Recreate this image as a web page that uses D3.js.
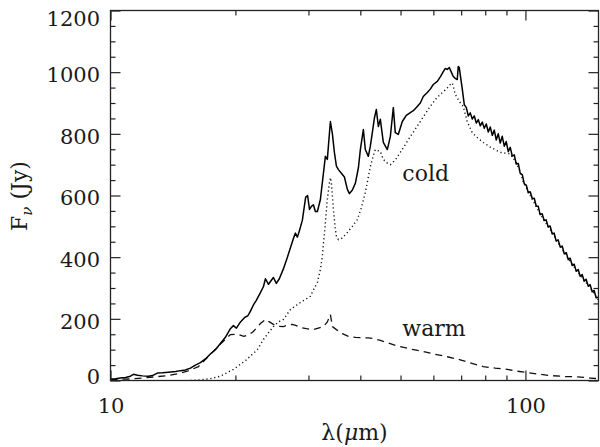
<!DOCTYPE html>
<html>
<head>
<meta charset="utf-8">
<script src="https://cdn.jsdelivr.net/npm/d3@7/dist/d3.min.js"></script>
<style>
  html, body { margin: 0; padding: 0; background: #fff; }
  svg { display: block; }
  text { font-family: "DejaVu Serif", serif; fill: #1a1a1a; }
</style>
</head>
<body>
<svg id="chart" width="600" height="447"></svg>
<script>
// Total observed spectrum (wavelength in micron, flux density in Jy)
const totalWave = [10.0,10.28,10.57,10.87,11.17,11.36,11.62,11.94,12.35,12.62,12.97,13.34,13.80,14.35,14.74,15.15,15.58,16.02,16.47,16.93,17.41,17.90,18.40,18.92,19.45,19.78,20.11,20.57,21.08,21.43,21.74,22.10,22.46,22.98,23.37,23.63,24.03,24.42,24.70,25.10,25.52,26.10,26.69,27.13,27.58,27.90,28.21,28.52,29.00,29.53,29.85,30.17,30.49,30.83,31.17,31.52,32.05,32.40,32.95,33.31,33.88,34.26,34.64,35.03,35.42,36.01,36.62,37.23,37.65,38.28,38.92,39.58,40.01,40.68,41.13,41.82,42.29,42.76,43.24,43.72,44.21,44.70,45.45,46.46,47.25,48.04,48.57,49.38,50.50,51.63,52.79,53.68,54.87,55.80,56.73,58.00,58.98,59.97,61.32,62.35,63.39,64.10,64.82,65.54,66.27,67.00,67.75,68.50,68.88,69.27,
  70.44,71.23,72.03,72.84,73.63,74.46,75.29,76.14,76.99,77.83,78.70,79.58,80.47,81.37,82.27,83.19,84.12,85.06,86.01,86.96,87.93,88.92,89.91,90.91,91.92,92.95,93.99,95.04,96.10,97.16,98.25,99.35,100.46,101.58,102.7,103.85,105.01,106.18,107.37,108.5,109.72,110.95,112.19,113.44,114.7,115.98,117.28,118.59,119.91,121.3,122.66,124.03,125.41,126.82,128.2,129.63,131.08,132.55,134.03,135.5,137.02,138.55,140.10,141.66,143.2,144.80,146.42,148.06,149.7];
const totalFlux = [5,6,8,10,14,20,17,15,14,16,24,25,27,29,32,34,40,50,58,70,86,100,120,140,168,178,170,190,205,210,225,245,260,285,305,330,312,325,334,315,330,362,400,430,460,478,465,485,520,594,600,555,565,570,548,548,587,642,727,717,840,800,740,695,684,672,660,620,606,618,640,690,749,814,749,727,760,804,850,879,824,847,772,749,791,885,804,798,840,860,869,875,889,900,921,934,945,960,970,985,1002,1012,1009,1015,1000,986,980,976,1018,1015,
  945,895,885,858,868,848,858,835,846,826,838,818,832,806,822,795,812,780,800,770,792,760,775,742,756,728,732,702,704,672,668,638,634,609,612,590,591,566,565,538,541,519,521,498,501,476,478,452,456,433,436,411,415,392,397,373,377,354,360,338,344,322,328,306,311,288,292,268,270];

// Cold dust component
const coldWave = [15.58,16.47,17.41,18.40,19.78,21.17,22.59,23.37,24.03,24.70,25.38,26.10,27.13,28.68,30.32,31.00,31.52,32.05,32.40,32.58,32.95,33.31,33.69,33.88,34.07,34.45,34.83,35.03,35.42,36.21,37.23,38.28,39.35,40.23,41.13,41.82,42.29,43.00,43.48,44.21,44.70,45.45,46.46,47.25,48.57,49.94,51.34,52.79,54.26,55.80,57.36,58.98,60.98,63.04,64.46,65.90,66.64,67.75,69.27,70.82,72.40,74.43,76.96,79.13,82.27,86.96,91.92,94.51,96.62,98.78,102.7,108.5,114.7,121.3,128.2,135.5,143.2,149.7];
const coldFlux = [0,2,6,14,36,65,100,133,155,175,190,198,230,253,273,300,318,360,402,440,512,587,640,658,640,555,490,467,457,462,480,500,522,560,610,660,694,730,749,745,743,717,705,700,715,740,765,791,815,840,865,889,915,934,945,960,965,928,905,889,840,804,785,772,757,740,735,712,685,645,600,540,490,436,386,341,301,262];

// Warm dust component
const warmWave = [10.0,11.17,12.00,12.83,13.72,14.50,15.32,16.29,17.41,18.40,19.45,20.22,20.96,21.53,22.10,22.98,23.63,24.16,24.70,25.38,26.10,26.84,27.43,28.05,28.68,29.66,30.83,31.69,32.58,33.31,33.88,34.26,35.03,36.21,37.43,38.92,40.47,41.82,43.00,44.70,46.46,48.57,49.94,53.38,56.73,60.66,64.82,69.66,73.63,79.13,84.58,90.42,95.60,101.0,108.5,114.7,124.7,133.3,143.2,149.7];
const warmFlux = [3,5,8,12,16,22,30,45,85,118,149,150,143,148,159,185,198,190,182,176,175,180,182,178,172,168,165,170,175,190,214,175,165,152,143,140,139,138,136,130,123,114,110,101,94,85,77,67,57,45,40,36,30,26,20,16,13,12,8,6];

// Axis ticks
const xMajorTicks = [10, 100];
const xMinorTicks = [20, 30, 40, 50, 60, 70, 80, 90];
const yMajorTicks = [0, 200, 400, 600, 800, 1000, 1200];
const yMinorTicks = [50,100,150,250,300,350,450,500,550,650,700,750,850,900,950,1050,1100,1150];

const plotLeft = 110.5, plotRight = 598.5, plotTop = 10.5, plotBottom = 380.5;
const svg = d3.select("#chart");

const x = d3.scaleLog().domain([10, 150]).range([plotLeft, plotRight]);
const y = d3.scaleLinear().domain([0, 1200]).range([plotBottom, plotTop]);

const axisColor = "#222";
const fontSize = 21;

// curves
svg.append("clipPath").attr("id", "plotclip")
  .append("rect").attr("x", plotLeft).attr("y", plotTop)
  .attr("width", plotRight - plotLeft).attr("height", plotBottom - plotTop);

const line = d3.line().x(d => x(d[0])).y(d => y(d[1]));
const pair = (w, f) => w.map((v, i) => [v, f[i]]);

const plot = svg.append("g").attr("clip-path", "url(#plotclip)");
plot.append("path").datum(pair(coldWave, coldFlux)).attr("d", line)
  .attr("fill", "none").attr("stroke", "#111").attr("stroke-width", 1.4)
  .attr("stroke-dasharray", "1.2,2.8");
plot.append("path").datum(pair(warmWave, warmFlux)).attr("d", line)
  .attr("fill", "none").attr("stroke", "#111").attr("stroke-width", 1.3)
  .attr("stroke-dasharray", "7,5");
plot.append("path").datum(pair(totalWave, totalFlux)).attr("d", line)
  .attr("fill", "none").attr("stroke", "#000").attr("stroke-width", 1.5)
  .attr("stroke-linejoin", "round");

// axes: ticks point inward on all four sides
function styleAxis(g) {
  g.select(".domain").remove();
  g.selectAll(".tick line").attr("stroke", axisColor).attr("stroke-width", 1.2);
  g.selectAll(".tick text").style("font-family", "DejaVu Serif, serif")
    .style("font-size", fontSize + "px").attr("fill", "#1a1a1a");
}

svg.append("g").attr("transform", `translate(0,${plotBottom})`)
  .call(d3.axisBottom(x).tickValues(xMajorTicks).tickSize(-10).tickPadding(17.6)
    .tickFormat(d3.format("d")))
  .call(styleAxis);
svg.append("g").attr("transform", `translate(0,${plotBottom})`)
  .call(d3.axisBottom(x).tickValues(xMinorTicks).tickSize(-5).tickFormat(""))
  .call(styleAxis);
svg.append("g").attr("transform", `translate(0,${plotTop})`)
  .call(d3.axisTop(x).tickValues(xMajorTicks).tickSize(-10).tickFormat(""))
  .call(styleAxis);
svg.append("g").attr("transform", `translate(0,${plotTop})`)
  .call(d3.axisTop(x).tickValues(xMinorTicks).tickSize(-5).tickFormat(""))
  .call(styleAxis);

const yLeft = svg.append("g").attr("transform", `translate(${plotLeft},0)`)
  .call(d3.axisLeft(y).tickValues(yMajorTicks).tickSize(-10).tickPadding(10.5)
    .tickFormat(d3.format("d")))
  .call(styleAxis);
yLeft.selectAll(".tick text").attr("dy", "0.45em");
// the end labels sit just inside the frame
yLeft.selectAll(".tick text").filter(d => d === 1200).attr("dy", "0.7em");
yLeft.selectAll(".tick text").filter(d => d === 0).attr("dy", "0.16em");

svg.append("g").attr("transform", `translate(${plotLeft},0)`)
  .call(d3.axisLeft(y).tickValues(yMinorTicks).tickSize(-5).tickFormat(""))
  .call(styleAxis);
svg.append("g").attr("transform", `translate(${plotRight},0)`)
  .call(d3.axisRight(y).tickValues(yMajorTicks).tickSize(-10).tickFormat(""))
  .call(styleAxis);
svg.append("g").attr("transform", `translate(${plotRight},0)`)
  .call(d3.axisRight(y).tickValues(yMinorTicks).tickSize(-5).tickFormat(""))
  .call(styleAxis);

// frame
svg.append("rect").attr("x", plotLeft).attr("y", plotTop)
  .attr("width", plotRight - plotLeft).attr("height", plotBottom - plotTop)
  .attr("fill", "none").attr("stroke", axisColor).attr("stroke-width", 1.3);

// component labels
svg.append("text").attr("x", x(50.5)).attr("y", y(647))
  .style("font-size", "22px").text("cold");
svg.append("text").attr("x", x(50.5)).attr("y", y(144))
  .style("font-size", "22px").text("warm");

// axis titles
const xt = svg.append("text").attr("x", (plotLeft + plotRight) / 2).attr("y", 440)
  .attr("text-anchor", "middle").style("font-size", "22px");
xt.append("tspan").text("λ(");
xt.append("tspan").style("font-style", "italic").text("μ");
xt.append("tspan").text("m)");

const yt = svg.append("text").attr("transform", "translate(27,196) rotate(-90)")
  .attr("text-anchor", "middle").style("font-size", "22px");
yt.append("tspan").text("F");
yt.append("tspan").attr("dy", 5).style("font-size", "15px").style("font-style", "italic").text("ν");
yt.append("tspan").attr("dy", -5).text(" (Jy)");
</script>
</body>
</html>
